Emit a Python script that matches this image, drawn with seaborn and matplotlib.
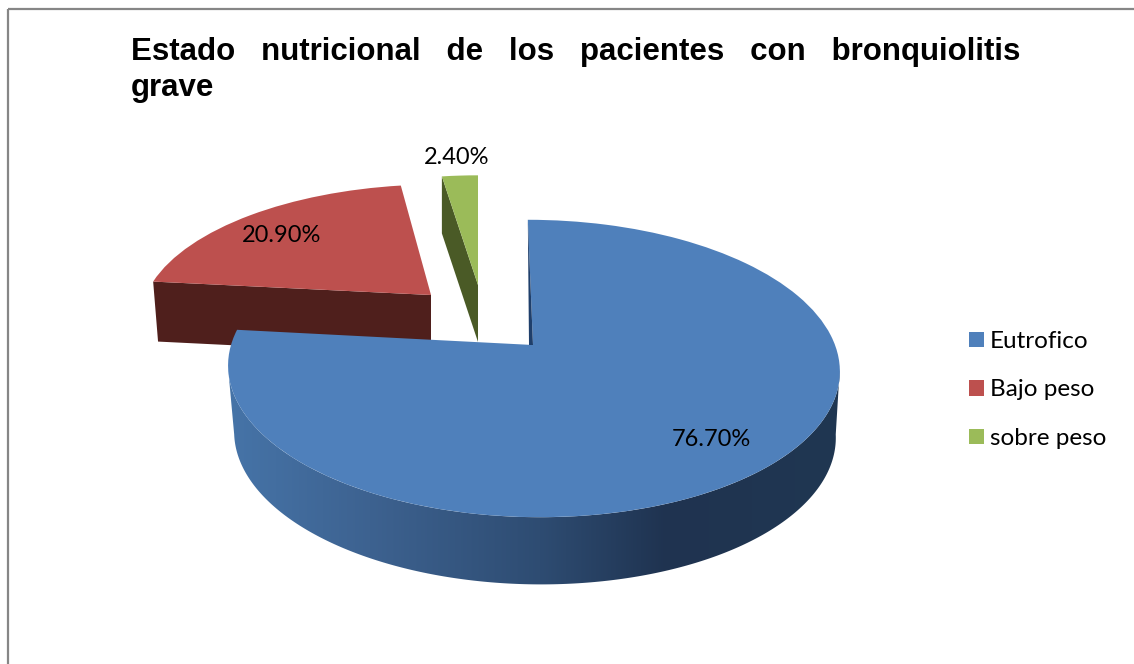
import numpy as np
import matplotlib
matplotlib.use("Agg")
import matplotlib.pyplot as plt
from matplotlib.transforms import Transform
from matplotlib.patches import Polygon
from matplotlib.colors import to_rgb
import seaborn as sns

categories = ["Eutrofico", "Bajo peso", "sobre peso"]
values = [76.7, 20.9, 2.4]
top_colors = ["#4f80bb", "#bd504e", "#9bbb59"]
cut_colors = ["#1f3f6b", "#4f1f1c", "#4a5a26"]
title = "Estado   nutricional   de   los   pacientes   con   bronquiolitis\ngrave"

sns.set_theme(style="white")
plt.rcParams["font.family"] = ["Lato", "DejaVu Sans"]
PERSP = 0.158


class Persp(Transform):
    input_dims = output_dims = 2
    is_separable = False
    has_inverse = False

    def __init__(self, cx, cy, a, b, shear=0.0):
        super().__init__()
        self.cx, self.cy, self.a, self.b, self.shear = cx, cy, a, b, shear

    def transform_non_affine(self, pts):
        pts = np.asarray(pts, float)
        s = 1.0 / (1.0 + PERSP * pts[:, 1])
        return np.column_stack((self.cx + (self.b * pts[:, 0] + self.shear * pts[:, 1]) * s,
                                self.cy - self.a * pts[:, 1] * s))


def rim(theta_deg):
    t = np.radians(theta_deg)
    return np.column_stack((np.cos(t), np.sin(t)))


fig = plt.figure(figsize=(11.34, 6.64), dpi=100, facecolor="white")
ax = fig.add_axes([0, 0, 1, 1])
wedges, _ = ax.pie(values, colors=top_colors, startangle=90, counterclock=False, radius=1)

top_proj = [Persp(533, 345, 145, 302, -6), Persp(431, 295, 128, 285, 8), Persp(478, 285, 127, 278)]
bot_proj = [Persp(534, 411, 146, 297, -6), Persp(431, 355, 128, 280, 8), Persp(478, 342, 127, 278)]

for w, t, z in zip(wedges, top_proj, [6, 2, 4]):
    w.set_transform(t + ax.transData)
    w.set_zorder(z)
    w.set_edgecolor("none")

# cut faces of the red and green slices, taken from each wedge's own angle
for i, z in [(1, 1), (2, 3)]:
    th = wedges[i].theta2
    p = rim([th])
    origin = np.zeros((1, 2))
    quad = np.vstack((top_proj[i].transform(origin), top_proj[i].transform(p),
                      bot_proj[i].transform(p), bot_proj[i].transform(origin)))
    ax.fill(quad[:, 0], quad[:, 1], color=cut_colors[i], lw=0, zorder=z)

# shaded outer wall of the blue slice: a smooth horizontal gradient clipped to the wall.
# The arc runs between the silhouette tangents, where the ellipses are widest.
grad_x = [228, 370, 540, 666, 838]
grad_c = np.array([to_rgb(c) for c in ["#4674a8", "#3d6290", "#2e4c72", "#1f3350", "#203752"]])
ths = np.linspace(189, 351, 241)
tops = top_proj[0].transform(rim(ths))
bots = bot_proj[0].transform(rim(ths))
wall = np.vstack((tops, bots[::-1]))
xs = np.arange(220, 846)
grad = np.stack([np.interp(xs, grad_x, grad_c[:, c]) for c in range(3)], axis=-1)[None, :, :]
img = ax.imshow(grad, extent=(220, 846, 600, 340), aspect="auto", zorder=5, interpolation="bilinear")
clip = Polygon(wall, closed=True, transform=ax.transData, fc="none", ec="none")
ax.add_patch(clip)
img.set_clip_path(clip)

# thin dark sliver at the upright edge of the blue slice
edge = top_proj[0].transform(np.vstack(([[0, 0]], rim([wedges[0].theta2]))))
sliver = np.array([edge[1], edge[0], edge[0] + [-4, 0]])
ax.fill(sliver[:, 0], sliver[:, 1], color=cut_colors[0], lw=0, zorder=7)

ax.set_aspect("auto")
ax.set_xlim(0, 1134)
ax.set_ylim(664, 0)
ax.axis("off")

# value labels
label_xy = [(711, 439), (282, 235), (457, 158)]
for v, (x, y) in zip(values, label_xy):
    ax.text(x, y, f"{v:.2f}%", ha="center", va="center", fontsize=17, color="black", zorder=10)

leg = ax.legend(wedges, categories, loc="upper left", bbox_to_anchor=(969 / 1134, 1 - 331 / 664),
                frameon=False, fontsize=17.5, handlelength=0.62, handleheight=0.62,
                handletextpad=0.25, labelspacing=1.13, borderpad=0, borderaxespad=0,
                labelcolor="black")

ax.text(131, 70, title, fontsize=22.5, fontweight="bold", family="Liberation Sans",
        ha="left", va="center", linespacing=1.24, color="black", zorder=10)

# outer frame of the original picture
ax.plot([8, 8], [664, 9], color="#868686", lw=1.6, solid_capstyle="butt")
ax.plot([8, 1134], [9, 9], color="#868686", lw=1.6, solid_capstyle="butt")

fig.savefig("out.png", dpi=100, facecolor="white")
